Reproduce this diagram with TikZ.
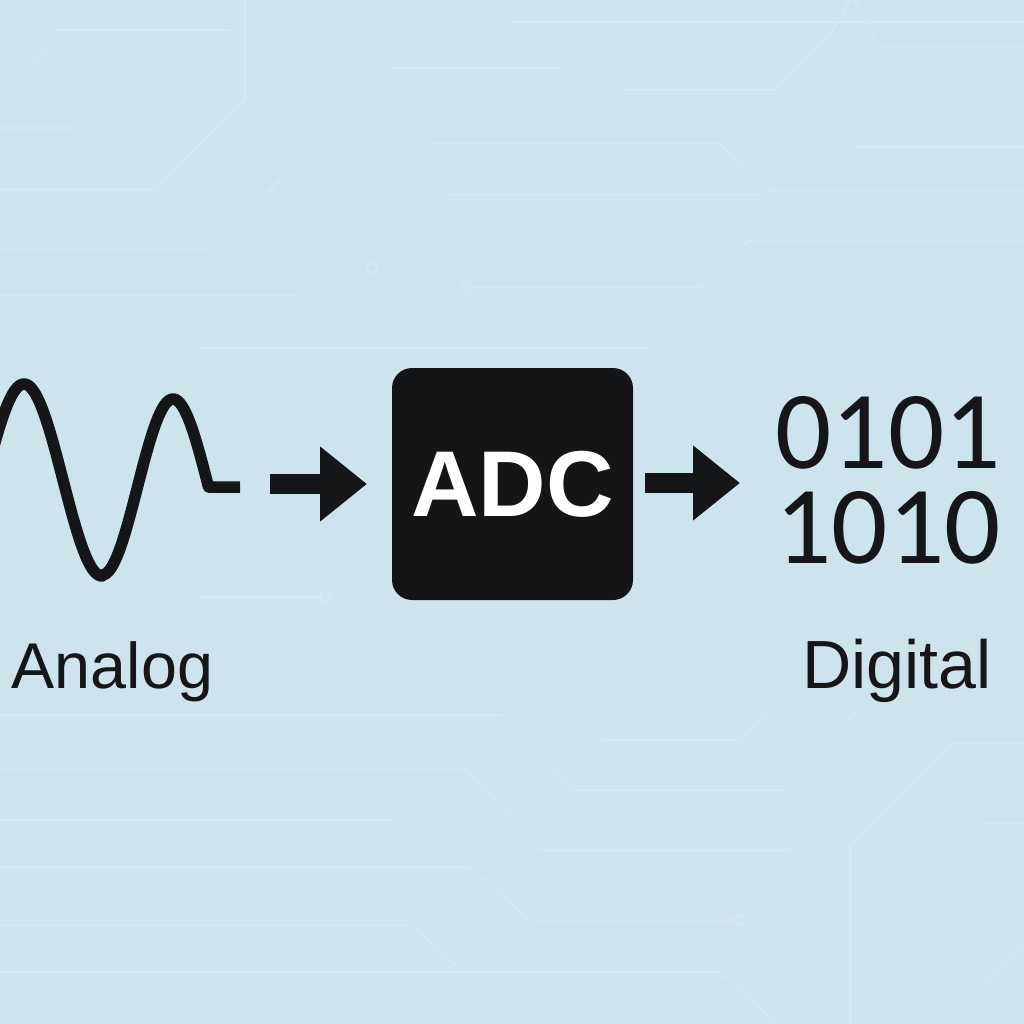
\documentclass[tikz,border=0pt]{standalone}
\usepackage{fontspec}
\setmainfont{Liberation Sans}
\newfontfamily\bitsfont{Carlito}
\usetikzlibrary{arrows.meta}
\definecolor{bgblue}{HTML}{CEE4EC}
\definecolor{inkdark}{HTML}{151618}
\definecolor{boxfill}{HTML}{141517}
\definecolor{tracecol}{HTML}{D4E8EF}

\begin{document}
\begin{tikzpicture}[x=0.1mm, y=-0.1mm,
  trace/.style={draw=tracecol, line width=0.15mm, line join=round},
  pad/.style={draw=tracecol, line width=0.15mm},
  signal/.style={draw=inkdark, line width=1.15mm, line join=round, line cap=butt},
  flowarrow/.style={draw=inkdark, fill=inkdark, line width=2mm,
    -{Triangle[length=4.7mm, width=7.2mm]}},
  blockbox/.style={fill=boxfill, rounded corners=2mm, minimum width=24.1mm,
    minimum height=23.2mm, inner sep=0pt, text=white,
    font=\fontsize{26.6pt}{30pt}\selectfont\bfseries},
  bits/.style={text=inkdark, inner sep=0pt, align=center,
    font=\bitsfont\fontsize{31.6pt}{27pt}\selectfont},
  caption/.style={text=inkdark, inner sep=0pt}]

% canvas
\fill[bgblue] (0,0) rectangle (1024,1024);
\useasboundingbox (0,0) rectangle (1024,1024);
\clip (0,0) rectangle (1024,1024);

% faint circuit traces in the background
\draw[trace] (57,30) -- (230,30);
\draw[trace] (245,0) -- (245,100) -- (153,190) -- (0,190);
\draw[trace] (47,50) -- (13,87);
\draw[trace] (0,128) -- (77,128);
\draw[trace] (0,248) -- (213,248) -- (333,127);
\draw[trace] (0,295) -- (300,295);
\draw[trace] (313,260) -- (430,143) -- (719,143) -- (772,192) -- (1024,192);
\draw[trace] (377,265) -- (447,195) -- (760,195);
\draw[pad] (372,268) circle (5);
\draw[trace] (393,68) -- (562,68);
\draw[trace] (472,287) -- (702,287) -- (749,240) -- (1024,240);
\draw[pad] (467,287) circle (5);
\draw[trace] (622,90) -- (775,90) -- (832,33) -- (850,0);
\draw[trace] (512,22) -- (1024,22);
\draw[trace] (855,0) -- (879,48) -- (1024,48);
\draw[trace] (855,147) -- (1024,147);
\draw[trace] (200,348) -- (650,348);
\draw[trace] (200,597) -- (320,597);
\draw[pad] (325,597) circle (5);
\draw[trace] (0,715) -- (503,715) -- (575,790) -- (784,790) -- (856,713);
\draw[trace] (0,768) -- (464,768) -- (542,850) -- (791,850);
\draw[trace] (601,740) -- (739,740) -- (778,700);
\draw[trace] (0,820) -- (392,820);
\draw[trace] (0,867) -- (470,867) -- (529,920) -- (734,920);
\draw[pad] (739,920) circle (5);
\draw[trace] (0,925) -- (412,925) -- (458,967);
\draw[trace] (0,972) -- (719,972) -- (778,1024);
\draw[trace] (850,1024) -- (850,847) -- (954,743) -- (1024,743);
\draw[trace] (980,823) -- (1024,823);
\draw[trace] (1024,943) -- (941,1024);

% analog waveform
\draw[signal]
  plot[domain=-12:102, samples=70] (\x, {480 - 96*cos(180*(\x-24)/78)})
  -- plot[domain=102:173, samples=45] (\x, {487 + 88*cos(180*(\x-102)/71)})
  -- plot[domain=173:208.5, samples=25] (\x, {487 - 88*cos(180*(\x-173)/71)})
  -- (240,487) coordinate (waveend);

% flow arrows
\coordinate (arrAfrom) at (270,484);
\coordinate (arrAto) at (367,484);
\draw[flowarrow] (arrAfrom) -- (arrAto);

\coordinate (arrBfrom) at (645,483);
\coordinate (arrBto) at (740,483);
\draw[flowarrow] (arrBfrom) -- (arrBto);

% converter block
\node[blockbox] (adc) at (512.5,484) {ADC};

% digital output
\node[bits] (bitsout) at (888,480.5) {0101\\1010};

% captions
\node[caption, anchor=base west, font=\fontsize{18.4pt}{22pt}\selectfont]
  (analog) at (11,688) {Analog};
\node[caption, anchor=base, font=\fontsize{19.4pt}{23pt}\selectfont]
  (digital) at (897,688) {Digital};
\end{tikzpicture}
\end{document}
